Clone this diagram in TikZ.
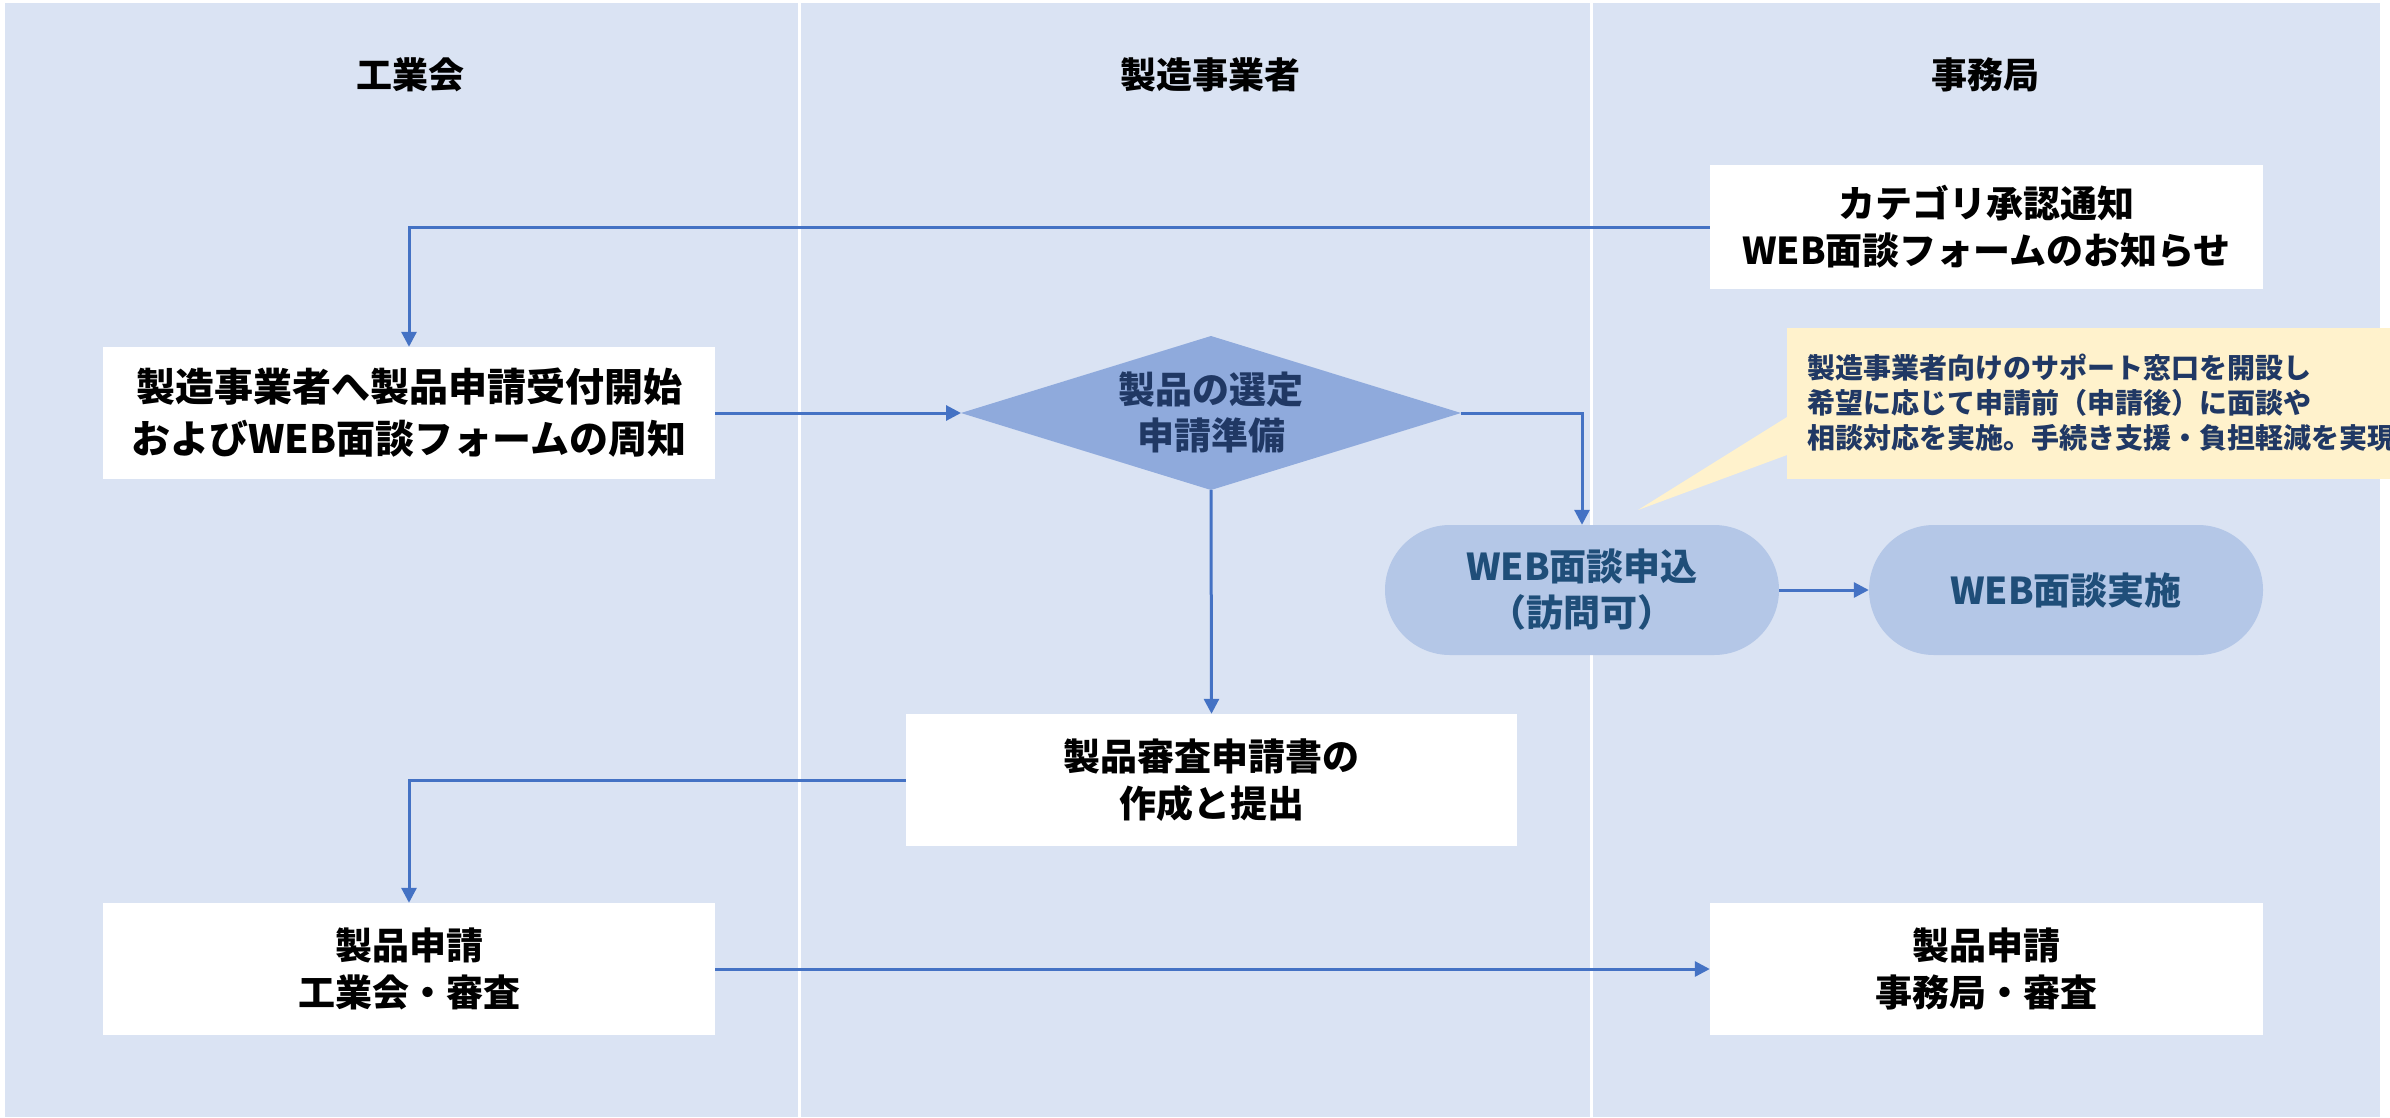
\documentclass[tikz,border=0pt]{standalone}
\usepackage{fontspec}
\setmainfont{Noto Sans CJK JP}
\usetikzlibrary{arrows.meta}
\definecolor{panelcol}{HTML}{DAE3F3}
\definecolor{conncol}{HTML}{4472C4}
\definecolor{diafill}{HTML}{8FAADC}
\definecolor{diatext}{HTML}{203864}
\definecolor{stadfill}{HTML}{B4C7E7}
\definecolor{stadtext}{HTML}{1F4E79}
\definecolor{callfill}{HTML}{FFF2CC}
\begin{document}
\begin{tikzpicture}[x=1pt,y=-1pt,
  wbox/.style={fill=white, inner sep=0pt, align=center, text=black,
    font=\bfseries\fontsize{37}{47}\selectfont},
  hdr/.style={inner sep=0pt, text=black, font=\bfseries\fontsize{36}{44}\selectfont},
  stad/.style={fill=stadfill, rounded corners=65pt, inner sep=0pt, align=center,
    text=stadtext, minimum width=394pt, minimum height=130pt,
    font=\bfseries\fontsize{37}{46}\selectfont},
  conn/.style={draw=conncol, line width=3pt, -{Triangle[length=15pt,width=15pt]}}]
\useasboundingbox (0,0) rectangle (2390,1117);
\fill[white] (0,0) rectangle (2390,1117);
\fill[panelcol] (5,3) rectangle (2380,1117);
\draw[white, line width=3pt] (799,3) -- (799,1117);
\draw[white, line width=3pt] (1591,3) -- (1591,1117);
% headers
\node[hdr] (h1) at (410,75) {工業会};
\node[hdr] (h2) at (1210,75) {製造事業者};
\node[hdr] (h3) at (1985,75) {事務局};
% boxes
\node[wbox, minimum width=553pt, minimum height=124pt] (A) at (1986.5,227) {カテゴリ承認通知\\WEB面談フォームのお知らせ};
\node[wbox, minimum width=612pt, minimum height=132pt, font=\bfseries\fontsize{39}{52}\selectfont] (B) at (409,413) {製造事業者へ製品申請受付開始\\およびWEB面談フォームの周知};
\node[wbox, minimum width=611pt, minimum height=132pt] (C) at (1211.5,780) {製品審査申請書の\\作成と提出};
\node[wbox, minimum width=612pt, minimum height=132pt] (D) at (409,969) {製品申請\\工業会・審査};
\node[wbox, minimum width=553pt, minimum height=132pt] (E) at (1986.5,969) {製品申請\\事務局・審査};
% diamond
\coordinate (dL) at (961,413);
\coordinate (dR) at (1461,413);
\coordinate (dT) at (1211,336);
\coordinate (dB) at (1211,490);
\fill[diafill] (dL) -- (dT) -- (dR) -- (dB) -- cycle;
\node[inner sep=0pt, align=center, text=diatext, font=\bfseries\fontsize{37}{46}\selectfont] (dtext) at (1211,413) {製品の選定\\申請準備};
% stadiums
\node[stad] (S1) at (1582,590) {WEB面談申込\\（訪問可）};
\node[stad] (S2) at (2066,590) {WEB面談実施};
% callout
\fill[callfill] (1787,328) rectangle (2400,479);
\fill[callfill] (1787,417) -- (1638,510) -- (1787,455) -- cycle;
\node[anchor=west, inner sep=0pt, align=left, text=diatext, font=\bfseries\fontsize{28}{35}\selectfont] (note) at (1807,403) {製造事業者向けのサポート窓口を開設し\\希望に応じて申請前（申請後）に面談や\\相談対応を実施。手続き支援・負担軽減を実現};
% connectors
\draw[conn] (A.west) -| (B.north);
\draw[conn] (B.east) -- (dL);
\draw[conn] (dR) -| (S1.north);
\draw[conn] (dB) -- (C.north);
\draw[conn] (C.west) -| (D.north);
\draw[conn] (D.east) -- (E.west);
\draw[conn] (S1.east) -- (S2.west);
\end{tikzpicture}
\end{document}
